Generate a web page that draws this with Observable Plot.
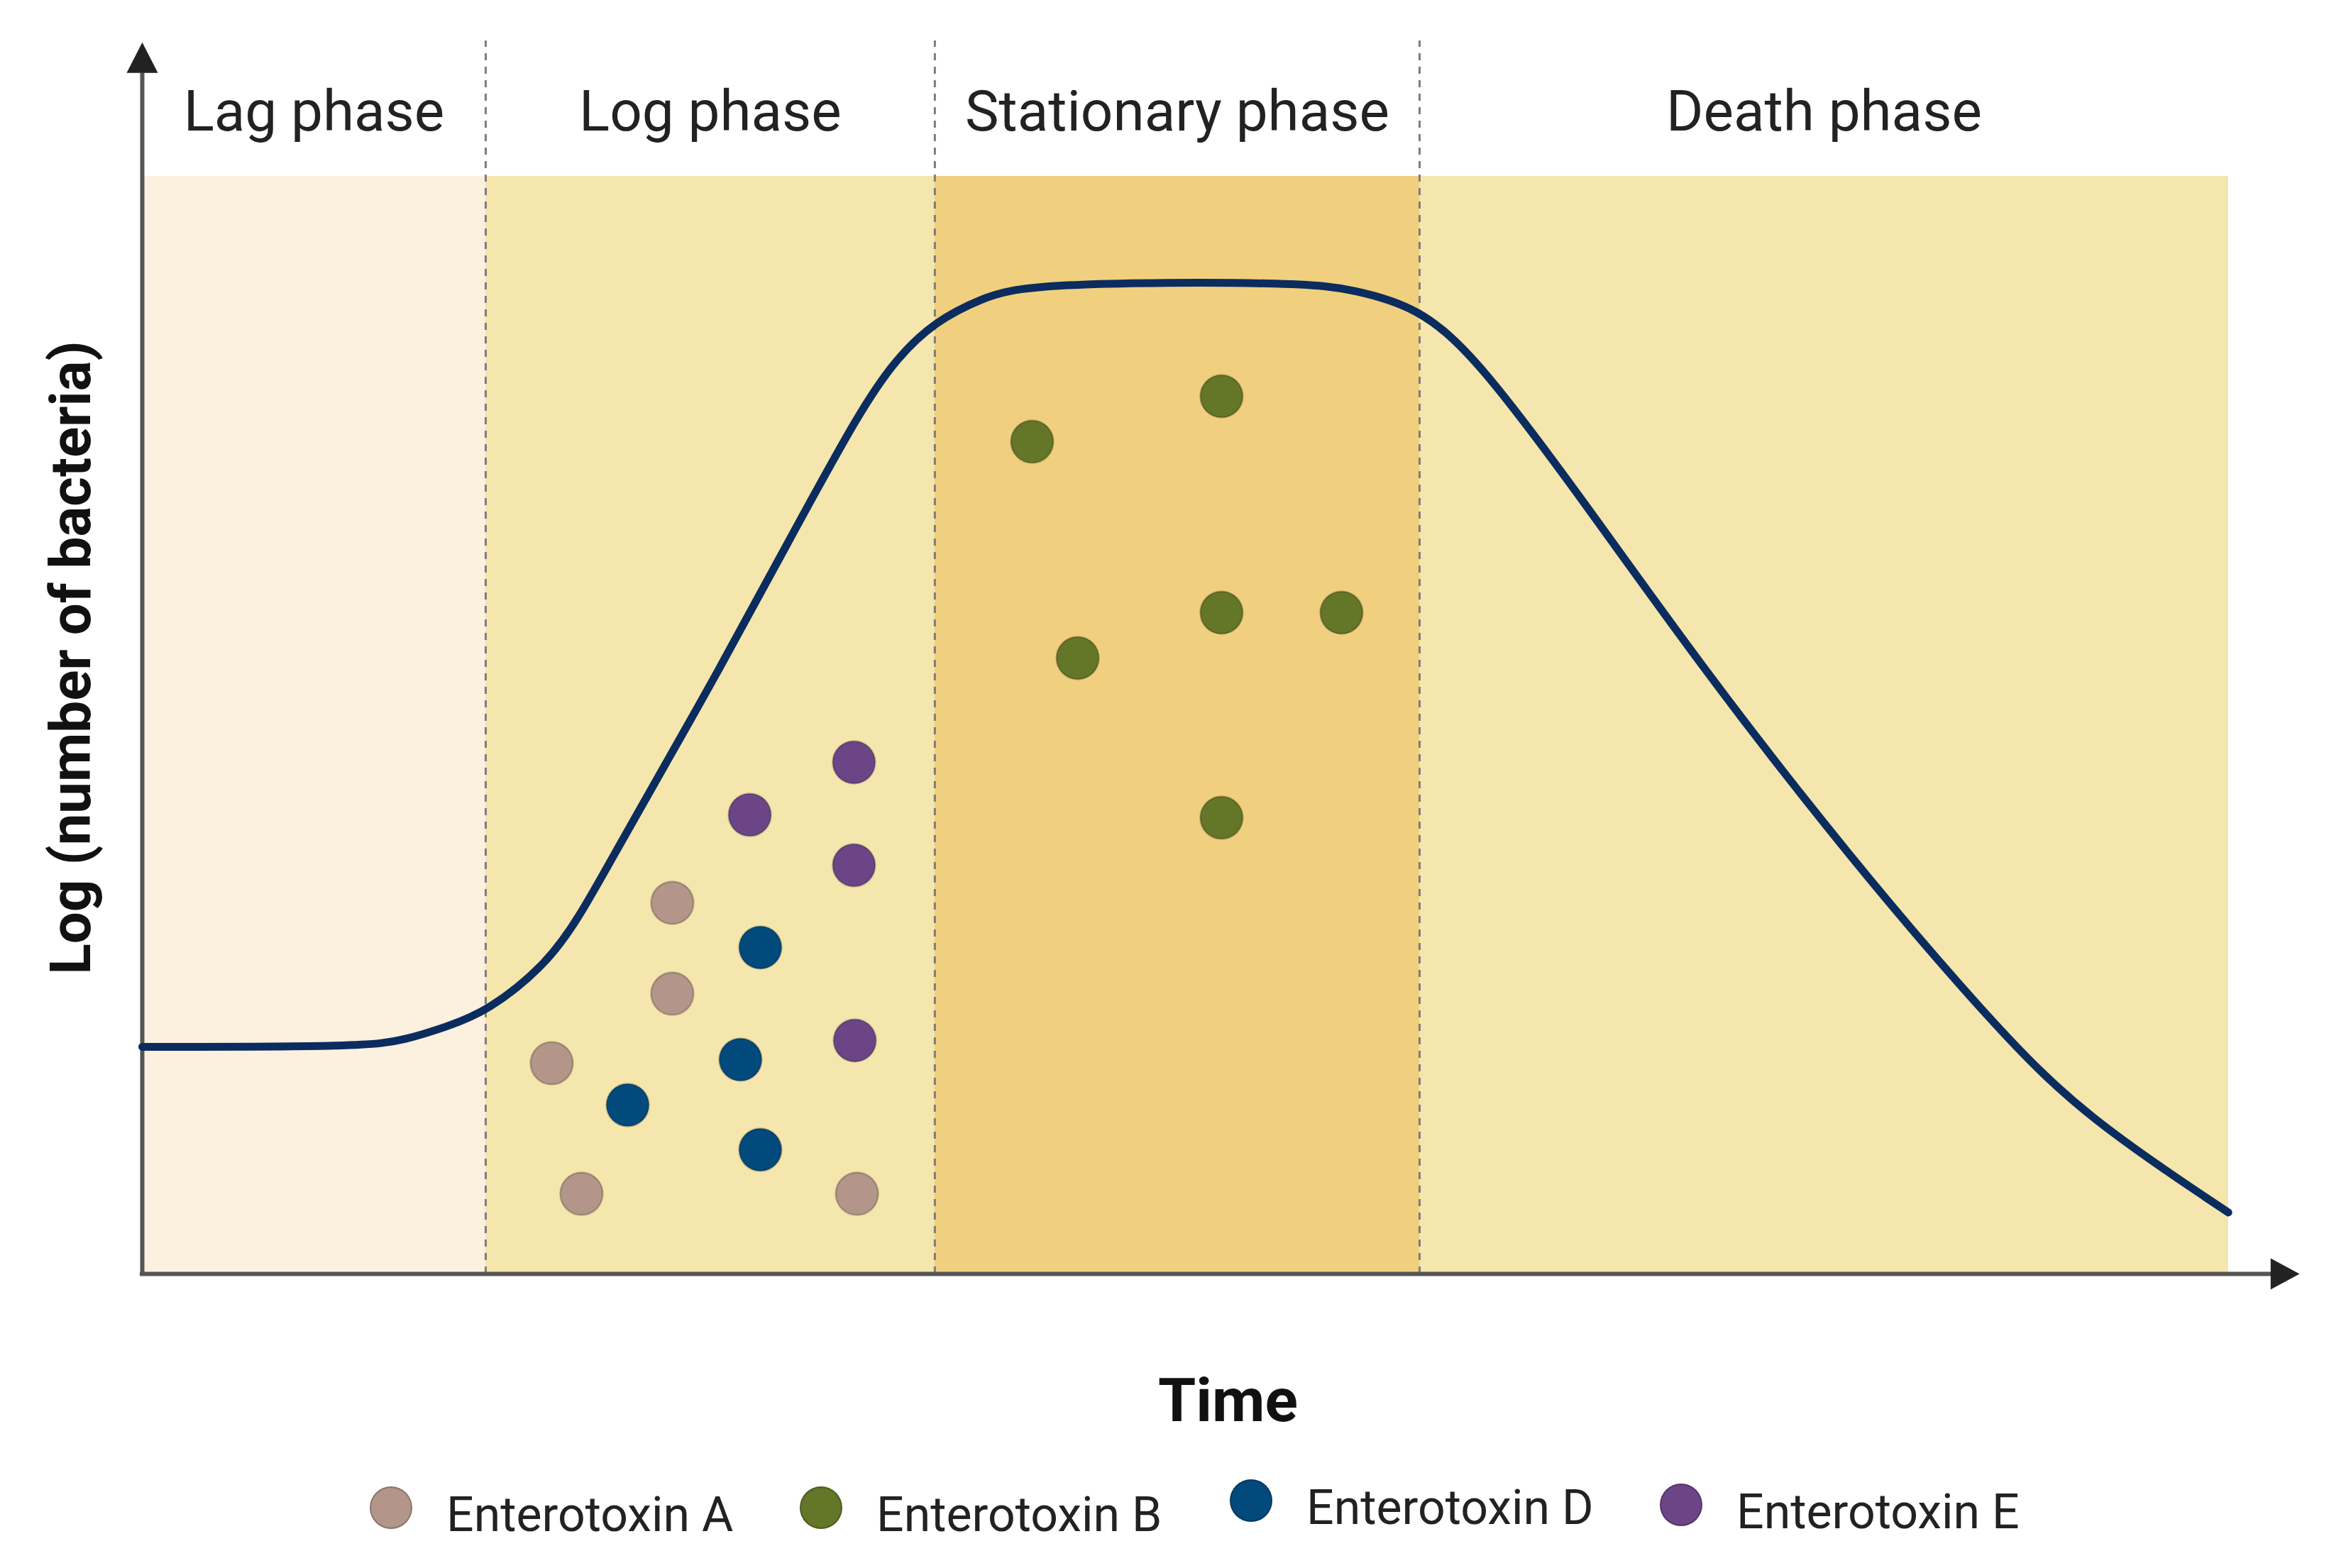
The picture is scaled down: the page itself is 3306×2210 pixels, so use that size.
<!DOCTYPE html>
<html>
<head>
<meta charset="utf-8">
<script src="https://cdn.jsdelivr.net/npm/d3@7"></script>
<script src="https://cdn.jsdelivr.net/npm/@observablehq/plot@0.6"></script>
<style>
  body { margin: 0; background: #fff; font-family: Roboto, sans-serif; }
  #chart svg { display: block; }
  #legend { display: flex; padding-left: 521px; margin-top: 40px; height: 70px; align-items: center; }
  .item { flex: none; width: 606px; display: flex; align-items: center; position: relative; }
  .sw { width: 60px; height: 60px; border-radius: 50%; box-sizing: border-box; border: 2.5px solid rgba(0,0,0,0.22); margin-right: 48px; position: relative; top: -10px; }
  .lbl { font-size: 68px; color: #222; line-height: 70px; white-space: nowrap; }
</style>
</head>
<body>
<div id="chart"></div>
<div id="legend"></div>
<script>
// ---- Phases (time units: 0..100 along the x axis) ----
const phases = ["Lag phase", "Log phase", "Stationary phase", "Death phase"];
const phaseStart = [0, 15.92, 36.74, 59.21];
const phaseEnd = [15.92, 36.74, 59.21, 96.71];
const phaseColors = ["#fcf0de", "#f4e6ac", "#f0cf7e", "#f4e6ac"];

// ---- Growth curve: log(number of bacteria) vs time ----
const curveTime = [0, 10.33, 12.20, 14.08, 15.99, 18.72, 20.23, 22.11, 24.24, 26.58, 29.93, 33.29, 34.97, 36.74, 38.85, 41.15, 53.85, 56.15, 59.14, 61.91, 66.84, 72.27, 79.11, 85.92, 90.03, 96.70];
const curveLog  = [20.69, 20.69, 21.33, 22.50, 23.90, 28.18, 32.39, 39.04, 46.41, 54.49, 66.64, 78.73, 83.45, 86.75, 88.85, 90.30, 90.37, 89.66, 88.11, 83.39, 70.33, 55.33, 38.01, 22.43, 14.35, 5.60];

// ---- Enterotoxin points ----
const toxins = ["Enterotoxin A", "Enterotoxin B", "Enterotoxin D", "Enterotoxin E"];
const toxinColors = ["#b3958a", "#647627", "#024a7c", "#6c4587"];
const toxinA_time = [18.98, 20.36, 24.57, 24.57, 33.13];
const toxinA_log  = [19.20, 7.30, 33.81, 25.53, 7.30];
const toxinB_time = [41.25, 50.03, 43.36, 50.03, 55.59, 50.03];
const toxinB_log  = [75.82, 79.96, 56.11, 60.25, 60.25, 41.56];
const toxinD_time = [22.50, 27.73, 28.65, 28.65];
const toxinD_log  = [15.38, 19.52, 29.74, 11.31];
const toxinE_time = [28.16, 32.99, 32.99, 33.03];
const toxinE_log  = [41.82, 46.61, 37.23, 21.27];

// ---- Axis extents ----
const xAxisEnd = 100;    // arrow tip of time axis
const yAxisEnd = 112.2;  // arrow tip of log axis
const phaseLabelY = 104.2;
const dashTop = 112.35;

// ---- Build tables ----
const curve = curveTime.map((t, i) => ({t, v: curveLog[i]}));
const toxinTimes = [toxinA_time, toxinB_time, toxinD_time, toxinE_time];
const toxinLogs = [toxinA_log, toxinB_log, toxinD_log, toxinE_log];
const points = toxins.flatMap((name, k) =>
  toxinTimes[k].map((t, i) => ({name, t, v: toxinLogs[k][i], color: toxinColors[k]})));
const phaseTable = phases.map((name, i) => ({
  name, x1: phaseStart[i], x2: phaseEnd[i], mid: (phaseStart[i] + phaseEnd[i]) / 2, color: phaseColors[i]
}));

// Arrowhead symbols (tip at the anchor point)
const arrowUp = {
  draw(ctx, size) {
    const r = Math.sqrt(size / Math.PI);
    ctx.moveTo(0, 0); ctx.lineTo(-r, 1.95 * r); ctx.lineTo(r, 1.95 * r); ctx.closePath();
  }
};
const arrowRight = {
  draw(ctx, size) {
    const r = Math.sqrt(size / Math.PI);
    ctx.moveTo(0, 0); ctx.lineTo(-1.85 * r, -r); ctx.lineTo(-1.85 * r, r); ctx.closePath();
  }
};

const chart = Plot.plot({
  width: 3306,
  height: 2060,
  marginLeft: 200,
  marginRight: 66,
  marginTop: 248,
  marginBottom: 265,
  x: {domain: [0, 100], axis: null},
  y: {domain: [0, 100], axis: null},
  color: {type: "identity"},
  style: {fontFamily: "Roboto, sans-serif", background: "white", overflow: "visible"},
  marks: [
    Plot.rect(phaseTable, {x1: "x1", x2: "x2", y1: 0, y2: 100, fill: "color"}),
    Plot.ruleX(phaseStart.slice(1), {y1: 0, y2: dashTop, stroke: "#7d7d7d", strokeWidth: 3, strokeDasharray: "10,9"}),
    Plot.ruleX([0], {y1: 0, y2: yAxisEnd - 2.8, stroke: "#555", strokeWidth: 6}),
    Plot.ruleY([0], {x1: -0.1, x2: xAxisEnd - 1.3, stroke: "#555", strokeWidth: 6}),
    Plot.line(curve, {x: "t", y: "v", stroke: "#0b2c5f", strokeWidth: 11, curve: "basis"}),
    Plot.dot(points, {x: "t", y: "v", r: 30, fill: "color", stroke: "#000", strokeOpacity: 0.22, strokeWidth: 2.5}),
    Plot.dot([yAxisEnd], {x: 0, y: d => d, r: 22, symbol: arrowUp, fill: "#222", stroke: "none"}),
    Plot.dot([xAxisEnd], {x: d => d, y: 0, r: 22, symbol: arrowRight, fill: "#222", stroke: "none"}),
    Plot.text(phaseTable, {x: "mid", y: phaseLabelY, text: "name", fontSize: 80, fill: "#222", textAnchor: "middle", lineAnchor: "bottom"}),
    Plot.text(["Log (number of bacteria)"], {frameAnchor: "left", text: d => d, rotate: -90, dx: -99, dy: -95, fontSize: 80, fontWeight: "bold", fill: "#111", textAnchor: "middle", lineAnchor: "middle"}),
    Plot.text(["Time"], {frameAnchor: "bottom", text: d => d, dx: 10, dy: 180, fontSize: 86, fontWeight: "bold", fill: "#111", textAnchor: "middle", lineAnchor: "middle"})
  ]
});
document.getElementById("chart").appendChild(chart);

// ---- Legend ----
const legend = document.getElementById("legend");
const legendShift = [0, 0, -10, -4];
toxins.forEach((name, k) => {
  const item = document.createElement("div");
  item.className = "item";
  item.style.top = legendShift[k] + "px";
  const sw = document.createElement("div");
  sw.className = "sw";
  sw.style.background = toxinColors[k];
  const lbl = document.createElement("div");
  lbl.className = "lbl";
  lbl.textContent = name;
  item.appendChild(sw);
  item.appendChild(lbl);
  legend.appendChild(item);
});
</script>
</body>
</html>
